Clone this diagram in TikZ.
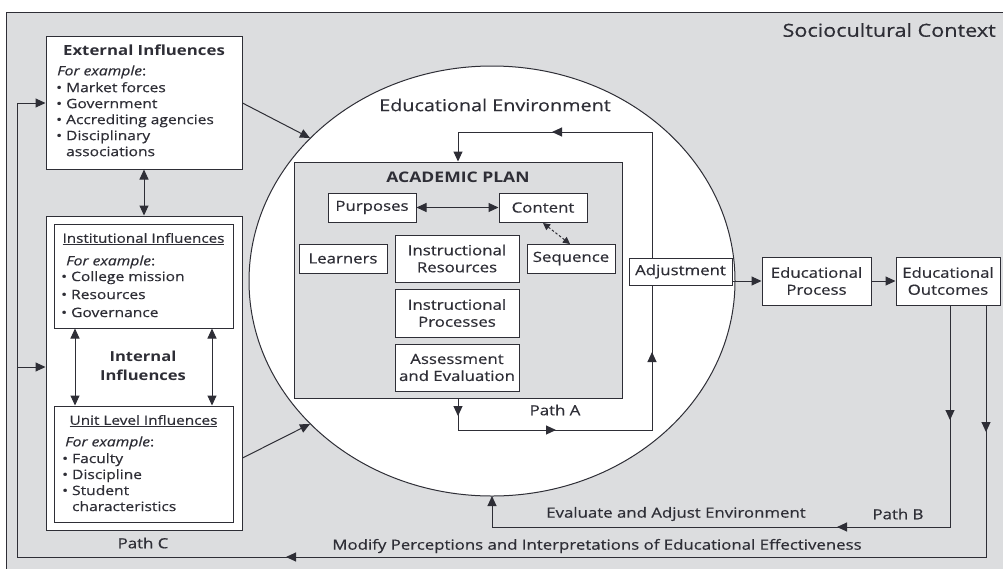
\documentclass[tikz,border=0pt]{standalone}
\usepackage{fontspec}
\setmainfont{Open Sans}[FakeStretch=1.2, UprightFeatures={FakeBold=0.5}, ItalicFeatures={FakeBold=0.5}]
\usetikzlibrary{arrows.meta}
\definecolor{bg}{HTML}{DCDDDF}
\definecolor{ink}{HTML}{2E2E36}
\begin{document}
\begin{tikzpicture}[x=1pt,y=-1pt,
  every node/.style={text=ink, font=\fontsize{13}{16}\selectfont},
  box/.style={draw=ink, fill=white, line width=1pt, inner sep=0pt},
  ln/.style={draw=ink, line width=1pt},
  arr/.style={draw=ink, line width=1pt, -{Triangle[length=10pt,width=9pt]}},
  darr/.style={draw=ink, line width=1pt, {Triangle[length=10pt,width=9pt]}-{Triangle[length=10pt,width=9pt]}},
  lbl/.style={font=\fontsize{14}{17}\selectfont, inner sep=0pt},
  btxt/.style={align=center, font=\fontsize{14}{17}\selectfont, inner sep=0pt}]
\clip (0,0) rectangle (1003,568);
\fill[white] (0,0) rectangle (1003,568);
\draw[fill=bg, line width=1pt, draw=ink] (6,12) rectangle (1010,580);
\node[font=\fontsize{18}{20}\selectfont, anchor=east, inner sep=0] (soc) at (996,30) {Sociocultural Context};

% Educational environment
\draw[ln, fill=white] (492,281) ellipse [x radius=243, y radius=215];
\node[font=\fontsize{16.5}{20}\selectfont] (envlbl) at (495,105) {Educational Environment};

% External influences
\node[box, minimum width=196pt, minimum height=133pt] (ext) at (144,102.5) {};
\node[font=\fontsize{14}{16}\selectfont\bfseries, inner sep=0] (extt) at (144,50) {External Influences};
\node[anchor=west, inner sep=0] (exfe) at (57,72) {\itshape For example\upshape:};
\node[anchor=north west, align=left, inner sep=0] (exl) at (56,82) {• Market forces\\• Government\\• Accrediting agencies\\• Disciplinary\\\hphantom{• }associations};

% Internal influences
\node[box, minimum width=196pt, minimum height=314pt] (int) at (144,373) {};
\node[box, minimum width=179pt, minimum height=104pt] (inst) at (143.5,276) {};
\node[inner sep=0, font=\fontsize{12.7}{16}\selectfont] (instt) at (143.5,239) {\underline{Institutional Influences}};
\node[anchor=west, inner sep=0] (infe) at (66,262) {\itshape For example\upshape:};
\node[anchor=north west, align=left, inner sep=0, font=\fontsize{13}{18}\selectfont] (inl) at (61,271) {• College mission\\• Resources\\• Governance};
\node[align=center, inner sep=0, font=\fontsize{13.8}{19}\selectfont\bfseries] (intt) at (143,366) {Internal\\Influences};
\node[box, minimum width=179pt, minimum height=116pt] (unit) at (143.5,464) {};
\node[inner sep=0, font=\fontsize{12.8}{16}\selectfont] (unitt) at (143.5,421) {\underline{Unit Level Influences}};
\node[anchor=west, inner sep=0] (unfe) at (65,443) {\itshape For example\upshape:};
\node[anchor=north west, align=left, inner sep=0] (unl) at (62,453) {• Faculty\\• Discipline\\• Student\\\hphantom{• }characteristics};
\node[lbl] (pathc) at (143,543) {Path C};

% Internal arrows
\draw[darr] (ext.south) -- (int.north);
\draw[darr] (inst.south -| 75,0) -- (unit.north -| 75,0);
\draw[darr] (inst.south -| 212,0) -- (unit.north -| 212,0);

% Academic plan
\node[draw=ink, fill=bg, line width=1pt, minimum width=328pt, minimum height=236pt, inner sep=0] (plan) at (458,280) {};
\node[font=\fontsize{14.6}{16}\selectfont\bfseries, inner sep=0] (plant) at (458,177) {ACADEMIC PLAN};
\node[box, btxt, minimum width=88pt, minimum height=29pt] (purp) at (372,207.5) {Purposes};
\node[box, btxt, minimum width=88pt, minimum height=29pt] (cont) at (543,207.5) {Content};
\node[box, btxt, minimum width=88pt, minimum height=29pt] (learn) at (343,258.5) {Learners};
\node[box, btxt, minimum width=124pt, minimum height=47pt] (ires) at (457,258.5) {Instructional\\Resources};
\node[box, btxt, minimum width=88pt, minimum height=29pt] (seq) at (571,258.5) {Sequence};
\node[box, btxt, minimum width=124pt, minimum height=48pt] (iproc) at (457,313) {Instructional\\Processes};
\node[box, btxt, minimum width=124pt, minimum height=47pt] (assess) at (457,367.5) {Assessment\\and Evaluation};
\draw[darr] (purp) -- (cont);
\draw[ink, line width=1pt, dash pattern=on 2.5pt off 2pt, {Triangle[length=7pt,width=7pt]}-{Triangle[length=7pt,width=7pt]}] (543,223) -- (570,244);

% Path A
\coordinate (a1) at (458,430);
\coordinate (a2) at (652,430);
\coordinate (a3) at (652,132);
\coordinate (a4) at (458,132);
\draw[arr] (plan.south -| a1) -- (458,416);
\draw[ln] (458,412) -- (a1) -- (552,430);
\draw[arr] (a1) -- (556,430);
\draw[ln] (552,430) -- (a2) -- (652,360);
\draw[arr] (a2) -- (652,352);
\draw[ln] (652,356) -- (a3) -- (560,132);
\draw[arr] (a3) -- (552,132);
\draw[ln] (556,132) -- (a4);
\draw[arr] (a4) -- (plan.north -| a4);
\node[lbl] (patha) at (555,410) {Path A};

% Adjustment and outcomes
\node[box, btxt, minimum width=103pt, minimum height=27pt] (adj) at (680.5,271.5) {Adjustment};
\node[box, btxt, minimum width=109pt, minimum height=48pt] (eproc) at (816.5,281) {Educational\\Process};
\node[box, btxt, minimum width=104pt, minimum height=48pt] (eout) at (948,281) {Educational\\Outcomes};
\draw[arr] (adj.east |- 0,281) -- (eproc.west);
\draw[arr] (eproc) -- (eout);

% Path B
\coordinate (b1) at (950,527);
\coordinate (b2) at (492,527);
\draw[arr] (eout.south -| b1) -- (b1 |- 0,420);
\draw[ln] (950,414) -- (b1) -- (845,527);
\draw[arr] (b1) -- (837,527);
\draw[ln] (841,527) -- (b2);
\draw[arr] (b2) -- (492,496);
\node[lbl] (pathb) at (898,514) {Path B};
\node[lbl] (eval) at (676,514) {Evaluate and Adjust Environment};

% Path C
\coordinate (c1) at (986,557);
\coordinate (c2) at (17,557);
\coordinate (c3) at (17,103);
\draw[arr] (eout.south -| c1) -- (c1 |- 0,432);
\draw[ln] (986,426) -- (c1) -- (295,557);
\draw[arr] (c1) -- (286,557);
\draw[ln] (290,557) -- (c2) -- (c3);
\draw[arr] (c3) -- (ext.west |- c3);
\draw[arr] (17,367) -- (int.west |- 0,367);
\node[lbl] (modify) at (597,546) {Modify Perceptions and Interpretations of Educational Effectiveness};

% Influences into environment
\draw[arr] (ext.east |- 0,103) -- (310,138);
\draw[arr] (int.east |- 0,458) -- (310,424);
\end{tikzpicture}
\end{document}
